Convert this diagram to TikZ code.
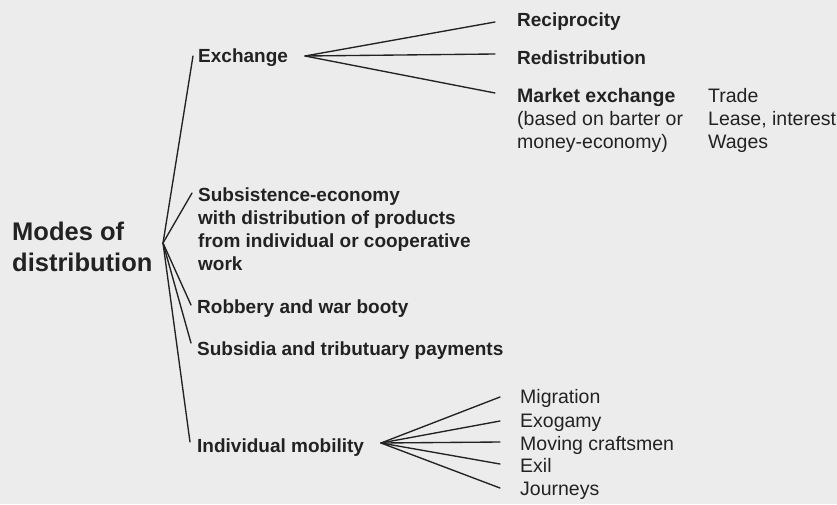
\documentclass[tikz,border=0pt]{standalone}
\usepackage{fontspec}
\setmainfont{Liberation Sans}
\definecolor{paper}{HTML}{ECECEC}
\definecolor{ink}{HTML}{222222}

\begin{document}
\begin{tikzpicture}[x=1pt,y=-1pt,
		every node/.style={inner sep=0pt,text=ink},
		mode/.style={font=\fontsize{19}{23}\selectfont\bfseries,align=left},
		kind/.style={font=\fontsize{19.5}{23}\selectfont,align=left},
		branch/.style={draw=ink,line width=1.35pt,line cap=round}]
		\fill[paper] (0,0) rectangle (837,504);
		\useasboundingbox (0,0) rectangle (837,504);
		\node[anchor=north west,align=left,font=\fontsize{25.5}{31}\selectfont\bfseries] (root) at (12,222) {Modes of\\distribution};
		\node[mode,anchor=base west] (exch) at (198,62) {Exchange};
		\node[mode,anchor=north west] (subs) at (198,188) {Subsistence-economy\\with distribution of products\\from individual or cooperative\\work};
		\node[mode,anchor=base west] (rob) at (197,313) {Robbery and war booty};
		\node[mode,anchor=base west] (subsid) at (197,355) {Subsidia and tributuary payments};
		\node[mode,anchor=base west] (mob) at (197,452) {Individual mobility};
		\node[mode,anchor=base west] (recip) at (517,26) {Reciprocity};
		\node[mode,anchor=base west] (redist) at (517,64) {Redistribution};
		\node[kind,anchor=north west] (market) at (517,88) {\textbf{Market exchange}\\(based on barter or\\money-economy)};
		\node[kind,anchor=north west] (trade) at (708,88) {Trade\\Lease, interest\\Wages};
		\node[kind,anchor=base west] (mig) at (520,403) {Migration};
		\node[kind,anchor=base west] (exo) at (520,427) {Exogamy};
		\node[kind,anchor=base west] (craft) at (520,450) {Moving craftsmen};
		\node[kind,anchor=base west] (exil) at (520,472) {Exil};
		\node[kind,anchor=base west] (journ) at (520,495) {Journeys};
		\coordinate (root-fork) at (163,243);
		\coordinate (exch-fork) at (305,56);
		\coordinate (mob-fork) at (381,443);
		\draw[branch] (root-fork) -- ([xshift=-5pt,yshift=6pt]exch.base west);
		\draw[branch] (root-fork) -- ([xshift=-6pt,yshift=-5pt]subs.north west);
		\draw[branch] (root-fork) -- ([xshift=-6pt,yshift=8pt]rob.base west);
		\draw[branch] (root-fork) -- ([xshift=-6pt,yshift=12pt]subsid.base west);
		\draw[branch] (root-fork) -- ([xshift=-7pt,yshift=10pt]mob.base west);
		\draw[branch] (exch-fork) -- ([xshift=-22pt,yshift=4pt]recip.base west);
		\draw[branch] (exch-fork) -- ([xshift=-22pt,yshift=10pt]redist.base west);
		\draw[branch] (exch-fork) -- ([xshift=-22pt,yshift=-5pt]market.north west);
		\draw[branch] (mob-fork) -- ([xshift=-20pt,yshift=6pt]mig.base west);
		\draw[branch] (mob-fork) -- ([xshift=-20pt,yshift=6pt]exo.base west);
		\draw[branch] (mob-fork) -- ([xshift=-20pt,yshift=8pt]craft.base west);
		\draw[branch] (mob-fork) -- ([xshift=-20pt,yshift=8pt]exil.base west);
		\draw[branch] (mob-fork) -- ([xshift=-20pt,yshift=7pt]journ.base west);
	\end{tikzpicture}
\end{document}
